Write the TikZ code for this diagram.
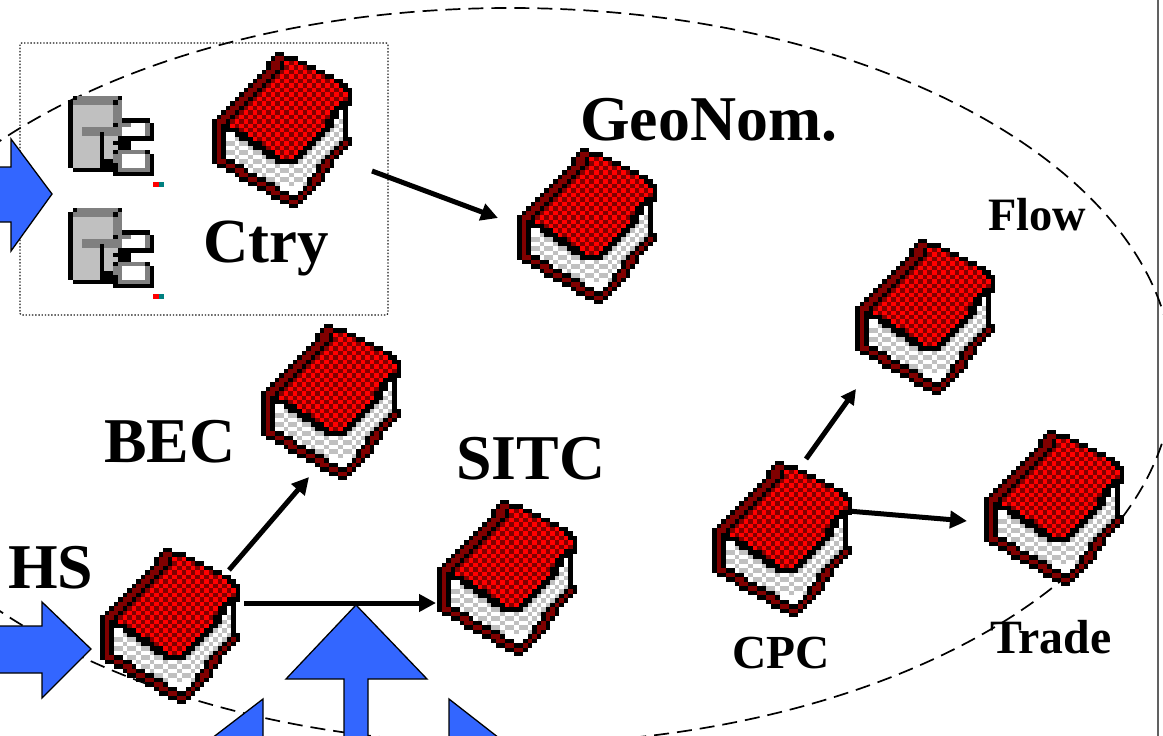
\documentclass[tikz,border=0pt]{standalone}
\usepackage{fontspec}
\setmainfont{Liberation Serif}
\usetikzlibrary{arrows.meta}
\definecolor{bookdark}{HTML}{800000}
\definecolor{pagegrey}{HTML}{C0C0C0}
\definecolor{srvgrey}{HTML}{808080}
\definecolor{arrowblue}{HTML}{3366FF}
\definecolor{marktea}{HTML}{008080}
\newcommand\gx[1]{\the\numexpr((#1)*453)/100\relax}
\newcommand\gy[1]{\the\numexpr((#1)*447)/100\relax}
\newcommand\pxspan[4]{\fill[#1] (\gx{#2},\gy{#4}) rectangle ({\gx{#3+1}+.1},{\gy{#4+1}+.1});}
\newcommand\pxcell[3]{\fill[#1] (\gx{#2},\gy{#3}) rectangle (\gx{#2+1},\gy{#3+1});}
\newcommand\pxK[3]{\pxspan{black}{#1}{#2}{#3}}
\newcommand\pxD[3]{\pxspan{bookdark}{#1}{#2}{#3}}
\newcommand\pxW[3]{\pxspan{white}{#1}{#2}{#3}}
\newcommand\pxL[3]{\pxspan{pagegrey}{#1}{#2}{#3}}
\newcommand\pxM[3]{\pxspan{srvgrey}{#1}{#2}{#3}}
\newcommand\pxC[3]{\pxspan{red}{#1}{#2}{#3}
  \foreach \c in {#1,...,#2}{\ifodd\numexpr\c+#3\relax\pxcell{bookdark}{\c}{#3}\fi}}
\newcommand\pxH[3]{\pxspan{white}{#1}{#2}{#3}
  \foreach \c in {#1,...,#2}{\ifodd\numexpr\c+#3\relax\pxcell{pagegrey}{\c}{#3}\fi}}
\newcommand\pxP[3]{\pxspan{white}{#1}{#2}{#3}
  \foreach \c in {#1,...,#2}{\ifodd\numexpr#3-(2*\c-1)/3\relax\else\pxcell{pagegrey}{\c}{#3}\fi}}
\newcommand\pxrow[2]{\foreach \cc/\a/\b in {#2}{\csname px\cc\endcsname{\a}{\b}{#1}}}
\newcommand\drawbookicon[1]{%
    \begin{scope}[shift={(#1.north west)}]
    \pxrow{0}{K/14/15}
    \pxrow{1}{K/13/13,D/14/15,K/16/18}
    \pxrow{2}{K/12/12,D/13/14,K/15/15,C/16/18,K/19/20}
    \pxrow{3}{K/12/12,D/13/14,K/15/15,C/16/20,K/21/22}
    \pxrow{4}{K/11/11,D/12/13,K/14/14,C/15/22,K/23/24}
    \pxrow{5}{K/10/10,D/11/12,K/13/13,C/14/24,K/25/26}
    \pxrow{6}{K/9/9,D/10/11,K/12/12,C/13/26,K/27/28}
    \pxrow{7}{K/8/8,D/9/10,K/11/11,C/12/27,K/28/29}
    \pxrow{8}{K/7/7,D/8/9,K/10/10,C/11/28,K/29/30}
    \pxrow{9}{K/6/6,D/7/8,K/9/9,C/10/29,K/30/30}
    \pxrow{10}{K/5/5,D/6/7,K/8/8,C/9/29,K/30/30}
    \pxrow{11}{K/4/4,D/5/6,K/7/7,C/8/27,K/28/30}
    \pxrow{12}{K/3/3,D/4/5,K/6/6,C/7/26,K/27/29}
    \pxrow{13}{K/2/2,D/3/4,K/5/5,C/6/25,K/26/27,W/28/28,K/29/29}
    \pxrow{14}{K/1/1,D/2/3,K/4/4,C/5/25,K/26/27,H/28/28,K/29/29}
    \pxrow{15}{K/0/0,D/1/2,K/3/3,C/4/24,K/25/26,H/27/28,K/29/29}
    \pxrow{16}{K/0/0,D/1/1,K/2/3,C/4/24,K/25/26,H/27/28,K/29/29}
    \pxrow{17}{K/0/0,D/1/1,K/2/5,C/6/23,K/24/25,H/26/28,K/29/29}
    \pxrow{18}{K/0/0,D/1/1,K/2/2,W/3/4,K/5/7,C/8/22,K/23/24,H/25/28,K/29/29}
    \pxrow{19}{K/0/0,D/1/1,K/2/2,P/3/5,K/6/8,C/9/21,K/22/23,H/24/28,K/29/30}
    \pxrow{20}{K/0/0,D/1/1,K/2/2,P/3/7,K/8/10,C/11/20,K/21/22,H/23/27,K/28/28,D/29/29,K/30/30}
    \pxrow{21}{K/0/0,D/1/1,K/2/2,P/3/8,K/9/11,C/12/19,K/20/21,H/22/26,K/27/27,D/28/28,K/29/29}
    \pxrow{22}{K/0/0,D/1/1,K/2/2,P/3/10,K/11/13,C/14/18,K/19/20,H/21/25,K/26/26,D/27/27,K/28/28}
    \pxrow{23}{K/0/0,D/1/1,K/2/2,P/3/11,K/12/14,C/15/17,K/18/19,H/20/24,K/25/25,D/26/26,K/27/27}
    \pxrow{24}{K/0/0,D/1/2,K/3/4,P/5/13,K/14/18,H/19/23,K/24/24,D/25/25,K/26/26}
    \pxrow{25}{K/1/2,D/3/4,K/5/6,P/7/18,H/19/22,K/23/23,D/24/25,K/26/26}
    \pxrow{26}{K/3/4,D/5/6,K/7/7,P/8/18,H/19/22,K/23/23,D/24/24,K/25/25}
    \pxrow{27}{K/5/5,D/6/7,K/8/9,P/10/18,H/19/21,K/22/22,D/23/23,K/24/24}
    \pxrow{28}{K/6/7,D/8/9,K/10/11,P/12/18,H/19/20,K/21/21,D/22/23,K/24/24}
    \pxrow{29}{K/8/9,D/10/11,K/12/13,P/14/18,H/19/20,K/21/21,D/22/22,K/23/23}
    \pxrow{30}{K/10/11,D/12/13,K/14/14,W/15/19,K/20/20,D/21/21,K/22/22}
    \pxrow{31}{K/12/12,D/13/14,K/15/16,W/17/18,K/19/19,D/20/20,K/21/21}
    \pxrow{32}{K/13/14,D/15/16,K/17/18,D/19/19,K/20/20}
    \pxrow{33}{K/15/16,D/17/18,K/19/19}
    \pxrow{34}{K/17/18}
    \end{scope}}
\newcommand\drawservericon[1]{%
    \begin{scope}[shift={(#1.north west)}]
    \pxrow{0}{K/1/1,M/2/10,K/11/11}
    \pxrow{1}{K/0/0,M/1/9,K/10/10,M/11/11}
    \pxrow{2}{K/0/0,L/1/9,M/10/11}
    \pxrow{3}{K/0/0,L/1/9,M/10/11}
    \pxrow{4}{K/0/0,L/1/9,M/10/11}
    \pxrow{5}{K/0/0,L/1/9,M/10/11,K/12/17}
    \pxrow{6}{K/0/0,L/1/9,K/10/10,M/11/13,W/14/16,M/17/17,K/18/18}
    \pxrow{7}{K/0/0,L/1/2,M/3/11,W/12/16,M/17/17,K/18/18}
    \pxrow{8}{K/0/0,L/1/2,M/3/6,K/7/7,M/8/11,W/12/16,M/17/17,K/18/18}
    \pxrow{9}{K/0/0,L/1/6,K/7/7,L/8/10,K/11/18}
    \pxrow{10}{K/0/0,L/1/6,K/7/7,L/8/9,K/10/13}
    \pxrow{11}{K/0/0,L/1/6,K/7/7,L/8/10,K/11/13}
    \pxrow{12}{K/0/0,L/1/6,K/7/7,L/8/9,K/10/10,M/11/16,K/17/17}
    \pxrow{13}{K/0/0,L/1/6,K/7/7,L/8/9,M/10/11,W/12/16,M/17/17,K/18/18}
    \pxrow{14}{K/0/0,L/1/6,K/7/9,M/10/11,W/12/16,M/17/17,K/18/18}
    \pxrow{15}{K/0/0,L/1/6,K/7/10,M/11/11,W/12/16,M/17/17,K/18/18}
    \pxrow{16}{K/1/10,M/11/17,K/18/18}
    \pxrow{17}{K/10/18}
    \fill[red] (85,86) rectangle (91,91);
    \fill[marktea] (91,86) rectangle (96,91);
    \end{scope}}
\tikzset{
  bookbox/.style={rectangle,inner sep=0pt,minimum width=141pt,minimum height=156pt,anchor=north west},
  srvbox/.style={rectangle,inner sep=0pt,minimum width=86pt,minimum height=80pt,anchor=north west},
  conn/.style={line width=5pt,-{Triangle[length=17pt,width=17pt]}},
  connsmall/.style={line width=5pt,-{Triangle[length=15pt,width=15pt]}},
  bigarrow/.style={fill=arrowblue,draw=black,line width=1.3pt,line join=miter},
  biglabel/.style={anchor=base west,inner sep=0pt,font=\fontsize{63.8}{64}\selectfont\bfseries},
  midlabel/.style={anchor=base west,inner sep=0pt,font=\fontsize{47.4}{48}\selectfont\bfseries},
}
\begin{document}
\begin{tikzpicture}[x=1pt,y=-1pt]
\clip (0,0) rectangle (1163,736);
\fill[white] (0,0) rectangle (1163,736);
% frame line and ellipse
\draw[draw=black!62,line width=2pt] (1158,0) -- (1158,736);
\draw[line width=1.7pt,dash pattern=on 15pt off 8pt] (510,376) ellipse [x radius=663,y radius=368];
% dotted box
\draw[line width=1.3pt,dash pattern=on 1.4pt off 1.8pt,draw=black!90,rounded corners=1.5pt] (20,43) rectangle (388,315);
% blue arrows
\draw[bigarrow] (-5,167) -- (11,167) -- (11,139) -- (52,194) -- (11,251) -- (11,222) -- (-5,222) -- cycle;
\draw[bigarrow] (-5,626) -- (42,626) -- (42,602) -- (91,649) -- (42,698) -- (42,673) -- (-5,673) -- cycle;
\draw[bigarrow] (344,745) -- (344,679) -- (286,679) -- (356,605) -- (427,679) -- (368,679) -- (368,745) -- cycle;
\draw[bigarrow] (203,745) -- (263,699) -- (263,745) -- cycle;
\draw[bigarrow] (449,745) -- (449,699) -- (508,745) -- cycle;
% server icons
\node[srvbox] (srvA) at (68,96) {};
\node[srvbox] (srvB) at (68,208) {};
\drawservericon{srvA}
\drawservericon{srvB}
% books
\node[bookbox] (ctry) at (212,52) {};
\node[bookbox] (geo) at (517,148) {};
\node[bookbox] (flow) at (855,239) {};
\node[bookbox] (bec) at (261,324) {};
\node[bookbox] (sitc) at (437,500) {};
\node[bookbox] (hs) at (100,548) {};
\node[bookbox] (cpc) at (712,461) {};
\node[bookbox] (trade) at (984,430) {};
\drawbookicon{ctry}
\drawbookicon{geo}
\drawbookicon{flow}
\drawbookicon{bec}
\drawbookicon{sitc}
\drawbookicon{hs}
\drawbookicon{cpc}
\drawbookicon{trade}
% connectors
\draw[conn] ([shift={(160,119)}]ctry.north west) -- ([shift={(-19,70)}]geo.north west);
\draw[conn] ([shift={(129,22)}]hs.north west) -- ([shift={(48,153)}]bec.north west);
\draw[conn] ([shift={(144,55)}]hs.north west) -- ([shift={(-1,103)}]sitc.north west);
\draw[connsmall] ([shift={(94,-2)}]cpc.north west) -- ([shift={(1,150)}]flow.north west);
\draw[conn] ([shift={(136,50)}]cpc.north west) -- ([shift={(-17,91)}]trade.north west);
% labels
\node[biglabel] (tgeo) at (580,140) {GeoNom.};
\node[biglabel,font=\fontsize{62.8}{64}\selectfont\bfseries] (tctry) at (203,262) {Ctry};
\node[biglabel] (tbec) at (104,462) {BEC};
\node[biglabel] (tsitc) at (456,479) {SITC};
\node[biglabel] (ths) at (8,588) {HS};
\node[midlabel,font=\fontsize{46.4}{48}\selectfont\bfseries] (tflow) at (988,230) {Flow};
\node[midlabel] (tcpc) at (732,668) {CPC};
\node[midlabel,font=\fontsize{47.8}{48}\selectfont\bfseries] (ttrade) at (990,653) {Trade};
\end{tikzpicture}
\end{document}
